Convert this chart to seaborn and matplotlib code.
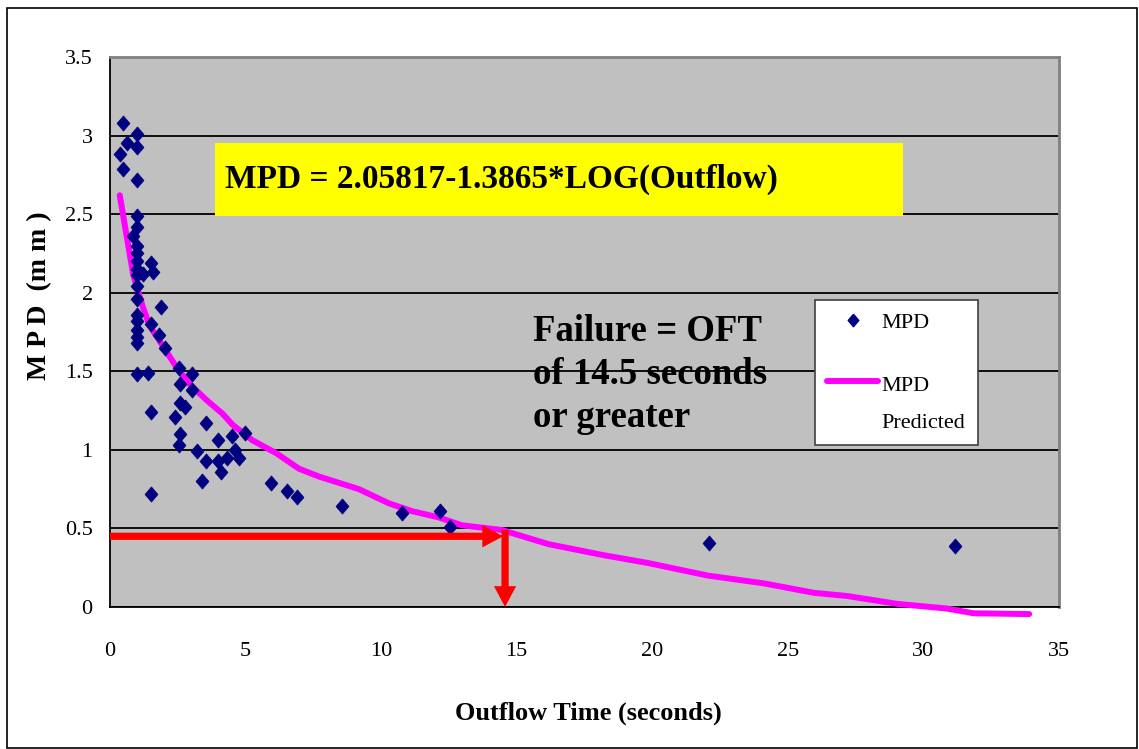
import matplotlib
matplotlib.use("Agg")
import matplotlib.pyplot as plt
from matplotlib.patches import Rectangle
from matplotlib.lines import Line2D
from matplotlib.legend_handler import HandlerLine2D
from matplotlib.ticker import MultipleLocator
import seaborn as sns
import pandas as pd

# ---------------- data ----------------
outflow_time = [0.49, 0.62, 0.36, 0.48,
                1.0, 1.0, 1.0, 1.0, 1.0, 1.0, 1.0, 1.0, 1.0, 1.0, 1.0, 1.0, 1.0, 1.0, 1.0, 1.0, 1.0, 1.0,
                0.85, 1.21, 1.52, 1.58, 1.89, 1.50, 1.80, 2.04, 1.40, 1.50, 1.50,
                2.53, 3.03, 2.59, 3.03, 2.59, 2.75, 2.40, 3.54, 2.59, 4.49, 4.99, 2.53, 3.97,
                3.21, 4.62, 4.77, 3.54, 3.97, 4.30, 4.10, 3.40, 5.94, 6.51, 6.88, 8.54,
                10.77, 12.16, 12.53, 22.1, 31.15]
mpd = [3.08, 2.95, 2.88, 2.79,
       3.01, 2.93, 2.72, 2.49, 2.42, 2.30, 2.25, 2.20, 2.15, 2.11, 2.04, 1.96, 1.86, 1.82, 1.76, 1.72, 1.68, 1.48,
       2.36, 2.12, 2.19, 2.13, 1.91, 1.80, 1.73, 1.65, 1.49, 1.24, 0.72,
       1.52, 1.48, 1.42, 1.38, 1.30, 1.27, 1.21, 1.17, 1.10, 1.09, 1.11, 1.03, 1.06,
       0.99, 1.00, 0.95, 0.93, 0.93, 0.95, 0.86, 0.80, 0.79, 0.74, 0.70, 0.64,
       0.60, 0.61, 0.51, 0.41, 0.39]

pred_time = [0.36, 0.85, 1.21, 1.46, 1.95, 2.44, 2.87, 3.54, 4.15, 4.52, 5.26, 6.12,
             6.97, 7.71, 8.08, 9.18, 10.28, 11.14, 12.12, 12.98, 14.45, 16.17, 18.2,
             19.84, 22.05, 24.13, 25.97, 27.19, 29.03, 30.87, 31.85, 33.9]
pred_mpd = [2.62, 2.12, 1.91, 1.79, 1.66, 1.53, 1.43, 1.32, 1.23, 1.16, 1.06, 0.98,
            0.88, 0.83, 0.81, 0.75, 0.66, 0.61, 0.57, 0.52, 0.49, 0.40, 0.33,
            0.28, 0.20, 0.15, 0.09, 0.07, 0.02, -0.01, -0.04, -0.045]

failure_oft = 14.5
failure_mpd = 0.45

x_ticks = [0, 5, 10, 15, 20, 25, 30, 35]
y_ticks = [0, 0.5, 1, 1.5, 2, 2.5, 3, 3.5]

equation_text = "MPD = 2.05817-1.3865*LOG(Outflow)"
failure_text = "Failure = OFT\nof 14.5 seconds\nor greater"

# ---------------- style ----------------
sns.set_style("white")
plt.rcParams["font.family"] = ["Liberation Serif", "DejaVu Serif"]
plt.rcParams["text.color"] = "black"
plt.rcParams["axes.labelcolor"] = "black"
plt.rcParams["xtick.color"] = "black"
plt.rcParams["ytick.color"] = "black"

fig = plt.figure(figsize=(11.39, 7.49), dpi=100)
ax = fig.add_axes([110 / 1139, 1 - 607 / 749, 949 / 1139, 550 / 749])
ax.set_facecolor("#C0C0C0")

scatter_df = pd.DataFrame({"Outflow": outflow_time, "MPD": mpd})
pred_df = pd.DataFrame({"Outflow": pred_time, "MPD": pred_mpd})

diamond = [(0, 1), (0.85, 0), (0, -1), (-0.85, 0), (0, 1)]

sns.lineplot(data=pred_df, x="Outflow", y="MPD", sort=False, ax=ax,
             color="#FF00FF", linewidth=4.3, zorder=3, clip_on=False)
sns.scatterplot(data=scatter_df, x="Outflow", y="MPD", ax=ax, marker=diamond,
                s=120, color="#000080", edgecolor="#000080", linewidth=0.5, zorder=4)

ax.set_xlim(0, 35)
ax.set_ylim(0, 3.5)
ax.set_xticks(x_ticks)
ax.set_yticks(y_ticks)
ax.set_xticklabels([str(t) for t in x_ticks])
ax.set_yticklabels([f"{t:g}" for t in y_ticks])
ax.xaxis.set_minor_locator(MultipleLocator(1))
ax.yaxis.set_minor_locator(MultipleLocator(0.1))
ax.tick_params(axis="both", which="major", direction="out", length=6.5, width=1.2,
               color="black", labelsize=16, pad=6, labelcolor="black")
ax.tick_params(axis="both", which="minor", direction="out", length=4.5, width=1.0,
               color="black")
ax.tick_params(axis="x", which="major", pad=19)
ax.grid(axis="y", which="major", color="black", linewidth=1.3)
ax.grid(axis="x", visible=False)
ax.set_axisbelow(True)

for s in ["left", "bottom"]:
    ax.spines[s].set_color("black")
    ax.spines[s].set_linewidth(1.3)
for s in ["top", "right"]:
    ax.spines[s].set_visible(True)
    ax.spines[s].set_color("#808080")
    ax.spines[s].set_linewidth(2.0)

ax.set_xlabel("Outflow Time (seconds)", fontsize=19, fontweight="bold", color="black")
ax.xaxis.set_label_coords((588 - 110) / 949, (607 - 713) / 550)
ax.xaxis.label.set_va("center")
ax.set_ylabel("M P D  (m m )", fontsize=20, fontweight="bold", color="black")
ax.yaxis.set_label_coords((40 - 110) / 949, (607 - 296) / 550)
ax.yaxis.label.set_va("center")

# arrows
arrow_style = "simple,head_length=15,head_width=16,tail_width=5.2"
ax.annotate("", xy=(failure_oft, failure_mpd), xytext=(0, failure_mpd),
            arrowprops=dict(arrowstyle=arrow_style, mutation_scale=1, color="#FF0000",
                            shrinkA=0, shrinkB=0, linewidth=0),
            zorder=5, annotation_clip=False)
ax.annotate("", xy=(failure_oft + 0.07, 0), xytext=(failure_oft + 0.07, 0.49),
            arrowprops=dict(arrowstyle=arrow_style, mutation_scale=1, color="#FF0000",
                            shrinkA=0, shrinkB=0, linewidth=0),
            zorder=5, annotation_clip=False)

# equation box
ax.add_patch(Rectangle((0.1106, 0.711), 0.725, 0.1326, transform=ax.transAxes,
                       facecolor="#FFFF00", edgecolor="none", zorder=2))
ax.text(0.1212, 0.777, equation_text, transform=ax.transAxes, fontsize=24,
        fontweight="bold", va="center", ha="left", zorder=3, color="black")

ax.text(0.4457, 0.532, failure_text, transform=ax.transAxes, fontsize=26.5,
        fontweight="bold", va="top", ha="left", linespacing=1.28, zorder=3, color="black")


class RaisedLineHandler(HandlerLine2D):
    def __init__(self, raise_by=0.0, **kw):
        super().__init__(**kw)
        self.raise_by = raise_by

    def create_artists(self, legend, orig_handle, xdescent, ydescent, width, height,
                       fontsize, trans):
        artists = super().create_artists(legend, orig_handle, xdescent, ydescent,
                                         width, height, fontsize, trans)
        for a in artists:
            a.set_ydata([y + self.raise_by for y in a.get_ydata()])
        return artists


# legend
scatter_handle = Line2D([], [], marker=diamond, linestyle="none", color="#000080",
                        markersize=9, label="MPD")
line_handle = Line2D([], [], color="#FF00FF", linewidth=4.3, label="MPD\nPredicted")
leg = ax.legend(handles=[scatter_handle, line_handle], loc="upper left",
                bbox_to_anchor=(0.743, 0.558), fontsize=16, frameon=True, fancybox=False,
                borderpad=0.55, labelspacing=2.0, handlelength=2.3, handletextpad=0.15,
                borderaxespad=0,
                handler_map={line_handle: RaisedLineHandler(raise_by=17)})
leg.get_texts()[1].set_linespacing(2.25)
for t in leg.get_texts():
    t.set_color("black")
leg.get_frame().set_facecolor("white")
leg.get_frame().set_edgecolor("#404040")
leg.get_frame().set_linewidth(1.2)
leg.get_frame().set_alpha(1)
leg.set_zorder(6)

# outer chart border
fig.patches.append(Rectangle((7 / 1139, 1 / 749), 1130 / 1139, 740 / 749,
                             transform=fig.transFigure, facecolor="none",
                             edgecolor="black", linewidth=1.2))

fig.savefig("out.png", dpi=100)
